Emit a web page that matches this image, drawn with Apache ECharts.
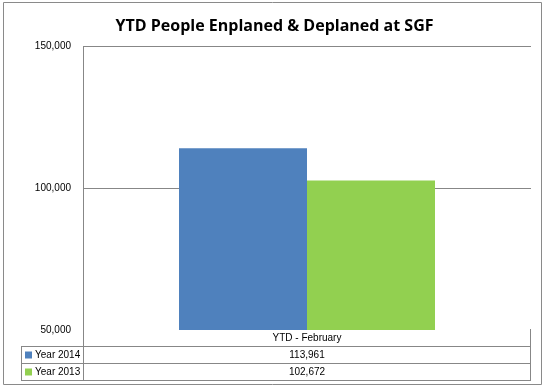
<!DOCTYPE html>
<html><head><meta charset="utf-8">
<script src="https://cdn.jsdelivr.net/npm/echarts@6/dist/echarts.min.js"></script>
<style>html,body{margin:0;padding:0;background:#fff}#c{width:549px;height:392px}</style>
</head><body><div id="c"></div>
<script>
var titleText = 'YTD People Enplaned & Deplaned at SGF';
var categories = ['YTD - February'];
var seriesNames = ['Year 2014', 'Year 2013'];
var values2014 = [113961];
var values2013 = [102672];
var seriesColors = ['#4F81BD', '#92D050'];
var yTicks = [50000, 100000, 150000];

var chart = echarts.init(document.getElementById('c'), null, {renderer: 'canvas'});
var fmt = function (v) { return v.toLocaleString('en-US'); };
var gridL = 83, gridR = 531, gridT = 46, gridB = 330;
var tblTop = 346, rowH = 17, tblLeft = 21;
var lineCol = '#878787';
var font = 'Liberation Sans';
var allVals = [values2014, values2013];

var graphics = [
  {type: 'rect', shape: {x: 3.5, y: 2.5, width: 538, height: 382}, style: {fill: 'none', stroke: '#8a8a8a', lineWidth: 1}, silent: true},
  {type: 'line', shape: {x1: gridL + 0.5, y1: gridT, x2: gridL + 0.5, y2: tblTop + 2 * rowH}, style: {stroke: lineCol, lineWidth: 1}},
  {type: 'line', shape: {x1: gridR - 0.5, y1: gridB - 1, x2: gridR - 0.5, y2: tblTop + 2 * rowH}, style: {stroke: lineCol, lineWidth: 1}}
];
for (var r = 0; r <= 2; r++) {
  graphics.push({type: 'line', shape: {x1: tblLeft, y1: tblTop + r * rowH + 0.5, x2: gridR, y2: tblTop + r * rowH + 0.5}, style: {stroke: lineCol, lineWidth: 1}});
}
graphics.push({type: 'line', shape: {x1: tblLeft + 0.5, y1: tblTop, x2: tblLeft + 0.5, y2: tblTop + 2 * rowH}, style: {stroke: lineCol, lineWidth: 1}});
seriesNames.forEach(function (n, i) {
  var cy = tblTop + i * rowH + rowH / 2 + 0.5;
  graphics.push({type: 'rect', shape: {x: 25, y: cy - 3.5, width: 7, height: 7}, style: {fill: seriesColors[i]}});
  graphics.push({type: 'text', x: 35, y: cy, style: {text: n, fontFamily: font, fontSize: 10, fill: '#000', textVerticalAlign: 'middle', textAlign: 'left'}});
  graphics.push({type: 'text', x: (gridL + gridR) / 2, y: cy, style: {text: fmt(allVals[i][0]), fontFamily: font, fontSize: 10, fill: '#000', textVerticalAlign: 'middle', textAlign: 'center'}});
});

chart.setOption({
  animation: false,
  backgroundColor: '#fff',
  title: {text: titleText, left: 'center', top: 13, textStyle: {fontFamily: 'Open Sans', fontWeight: 'bold', fontSize: 16, color: '#000'}},
  grid: {left: gridL, right: 549 - gridR, top: gridT, bottom: 392 - gridB, containLabel: false},
  xAxis: {type: 'category', data: categories, axisLine: {show: false}, axisTick: {show: false},
    axisLabel: {fontFamily: font, fontSize: 10, color: '#000', margin: 3}},
  yAxis: {type: 'value', min: yTicks[0], max: yTicks[yTicks.length - 1], interval: yTicks[1] - yTicks[0],
    axisLine: {show: false}, axisTick: {show: false},
    axisLabel: {fontFamily: font, fontSize: 10, color: '#000', margin: 12, formatter: function (v) { return fmt(v); }},
    splitLine: {show: true, showMinLine: false, lineStyle: {color: lineCol, width: 1}}},
  series: [
    {name: seriesNames[0], type: 'bar', data: values2014, barWidth: 128, barGap: '0%', itemStyle: {color: seriesColors[0]}},
    {name: seriesNames[1], type: 'bar', data: values2013, barWidth: 128, barGap: '0%', itemStyle: {color: seriesColors[1]}}
  ],
  graphic: graphics
});
</script></body></html>
